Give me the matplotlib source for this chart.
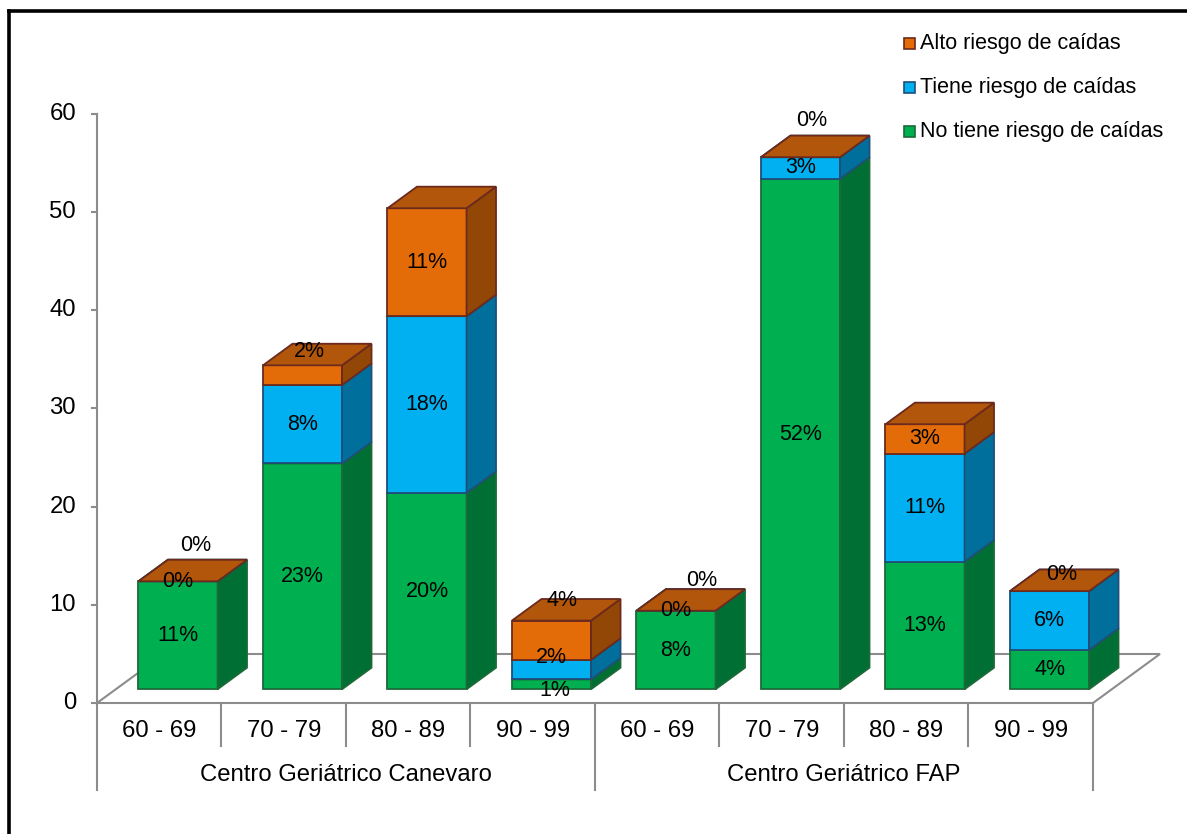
import matplotlib
matplotlib.use("Agg")
import matplotlib.pyplot as plt
from matplotlib.patches import Polygon, Rectangle
from matplotlib.lines import Line2D

# ---------------- data ----------------
groups = ["Centro Geriátrico Canevaro", "Centro Geriátrico FAP"]
age_ranges = ["60 - 69", "70 - 79", "80 - 89", "90 - 99"]
series_names = ["No tiene riesgo de caídas", "Tiene riesgo de caídas", "Alto riesgo de caídas"]
no_riesgo = [11, 23, 20, 1, 8, 52, 13, 4]
tiene_riesgo = [0, 8, 18, 2, 0, 2.2, 11, 6]
alto_riesgo = [0, 2, 11, 4, 0, 0, 3, 0]
no_riesgo_lbl = ["11%", "23%", "20%", "1%", "8%", "52%", "13%", "4%"]
tiene_riesgo_lbl = ["0%", "8%", "18%", "2%", "0%", "3%", "11%", "6%"]
alto_riesgo_lbl = ["0%", "2%", "11%", "4%", "0%", "0%", "3%", "0%"]
y_ticks = [0, 10, 20, 30, 40, 50, 60]

# ---------------- style ----------------
W, H = 1187, 834
FONT = "Liberation Sans"
FS = 15.5        # data labels and legend
FS_AX = 17.2     # axis labels
colors = [
    dict(front="#00B050", side="#006F33", top="#00903F", edge="#1D6A38"),
    dict(front="#00B0F0", side="#006F9C", top="#0090C6", edge="#1F4E79"),
    dict(front="#E36C09", side="#934707", top="#B1560A", edge="#6B2A1D"),
]
AXC = "#8C8C8C"

# pixel <-> data mapping
X0PX, CATPX = 97.0, 124.5        # x=0 at px 97, one category = 124.5 px
Y0PX, UNITPX = 703.0, 9.817      # y=0 at px 703, one unit = 9.817 px
DX = 67.0 / CATPX                 # floor depth offset (x units)
DY = 49.0 / UNITPX                # floor depth offset (y units)
D0, D1 = 0.28, 0.72               # bar depth range
BW = 0.635                        # bar width (category units)


def px2x(px):
    return (px - X0PX) / CATPX


def px2y(py):
    return (Y0PX - py) / UNITPX


fig = plt.figure(figsize=(W / 100, H / 100), dpi=100)
ax = fig.add_axes([0, 0, 1, 1])
ax.set_xlim(px2x(0), px2x(W))
ax.set_ylim(px2y(H), px2y(0))
ax.axis("off")


def P(x, y, d):
    return (x + DX * d, y + DY * d)


n = len(no_riesgo)

# floor
floor = [P(0, 0, 0), P(n, 0, 0), P(n, 0, 1), P(0, 0, 1), P(0, 0, 0)]
ax.plot([p[0] for p in floor], [p[1] for p in floor], color=AXC, lw=1.5, zorder=1,
        solid_joinstyle="miter")

# y axis
ax.plot([0, 0], [0, y_ticks[-1]], color=AXC, lw=1.5, zorder=1)
for t in y_ticks:
    ax.plot([px2x(92), 0], [t, t], color=AXC, lw=1.5, zorder=1)
    ax.text(px2x(76), t, str(t), ha="right", va="center", fontsize=FS_AX,
            family=FONT, color="black")

# category axis dividers and labels
for k in range(n + 1):
    outer = (k % len(age_ranges) == 0)
    ybot = px2y(790) if outer else px2y(746)
    ax.plot([k, k], [0, ybot], color=AXC, lw=1.5, zorder=1)
for i in range(n):
    ax.text(i + 0.5, px2y(731), age_ranges[i % len(age_ranges)], ha="center",
            va="center", fontsize=FS_AX, family=FONT)
for g, name in enumerate(groups):
    ax.text(g * len(age_ranges) + len(age_ranges) / 2, px2y(775), name,
            ha="center", va="center", fontsize=FS_AX, family=FONT)

# bars
series = [no_riesgo, tiene_riesgo, alto_riesgo]
labels = [no_riesgo_lbl, tiene_riesgo_lbl, alto_riesgo_lbl]
# label offsets in pixels (right, up) to mimic the original placement
lbl_off = {
    (0, 2): (18, 36), (1, 2): (7, 24), (3, 0): (3, -6), (3, 1): (0, 12),
    (3, 2): (10, 40), (4, 2): (26, 30), (5, 2): (11, 37), (7, 2): (12, 17),
}
z = 2
for i in range(n):
    xl = i + 0.5 - BW / 2
    xr = xl + BW
    base = 0.0
    for s in range(3):
        h = series[s][i]
        c = colors[s]
        y0, y1 = base, base + h
        if h > 0:
            front = [P(xl, y0, D0), P(xr, y0, D0), P(xr, y1, D0), P(xl, y1, D0)]
            side = [P(xr, y0, D0), P(xr, y0, D1), P(xr, y1, D1), P(xr, y1, D0)]
            ax.add_patch(Polygon(front, closed=True, fc=c["front"], ec=c["edge"],
                                 lw=1.3, zorder=z, joinstyle="miter"))
            ax.add_patch(Polygon(side, closed=True, fc=c["side"], ec=c["edge"],
                                 lw=1.3, zorder=z, joinstyle="miter"))
        top = [P(xl, y1, D0), P(xr, y1, D0), P(xr, y1, D1), P(xl, y1, D1)]
        ax.add_patch(Polygon(top, closed=True, fc=c["top"], ec=c["edge"],
                             lw=1.3, zorder=z, joinstyle="miter"))
        base = y1
    base = 0.0
    for s in range(3):
        h = series[s][i]
        cx, cy = P(i + 0.5, base + h / 2, D0)
        ox, oy = lbl_off.get((i, s), (0, 0))
        ax.annotate(labels[s][i], (cx, cy), xytext=(ox * 0.72, oy * 0.72),
                    textcoords="offset points", ha="center", va="center",
                    fontsize=FS, family=FONT, zorder=10)
        base += h

# legend (manual, top-right)
leg_y = [131, 87, 43]
for s in range(3):
    yc = leg_y[s]
    ax.add_patch(Rectangle((px2x(904), px2y(yc + 5.5)), 11 / CATPX, 11 / UNITPX,
                           fc=colors[s]["front"], ec=colors[s]["edge"], lw=1.2,
                           zorder=5))
    ax.text(px2x(920), px2y(yc), series_names[s], ha="left", va="center",
            fontsize=FS, family=FONT)

# chart border (left and top visible)
fig.add_artist(Line2D([9 / W, 9 / W], [0, 1 - 10.5 / H], color="black", lw=2.6,
                      transform=fig.transFigure, solid_capstyle="projecting"))
fig.add_artist(Line2D([9 / W, 1], [1 - 10.5 / H, 1 - 10.5 / H], color="black",
                      lw=2.6, transform=fig.transFigure, solid_capstyle="projecting"))

fig.savefig("out.png", dpi=100)
